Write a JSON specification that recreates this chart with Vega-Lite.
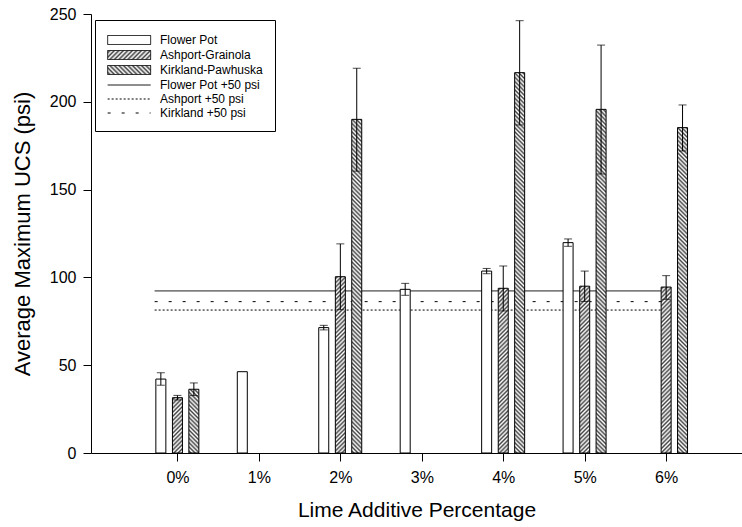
{
  "$schema": "https://vega.github.io/schema/vega-lite/v6.json",
  "width": 651,
  "height": 439,
  "autosize": {"type": "none"},
  "padding": {"left": 91, "top": 14, "right": 0, "bottom": 74},
  "background": "white",
  "config": {
    "view": {"stroke": null},
    "font": "Liberation Sans",
    "axis": {
      "grid": false, "domainColor": "black", "tickColor": "black", "labelColor": "black", "titleColor": "black",
      "labelFont": "Liberation Sans", "titleFont": "Liberation Sans", "titleFontWeight": "normal",
      "tickSize": 8, "domainWidth": 1, "tickWidth": 1, "labelFontSize": 16, "titleFontSize": 21
    }
  },
  "params": [
    {"name": "hs", "value": [
      {"offset":0,"color":"#fff"},{"offset":0.005,"color":"#444"},{"offset":0.01,"color":"#fff"},{"offset":0.015,"color":"#444"},{"offset":0.02,"color":"#fff"},{"offset":0.025,"color":"#444"},{"offset":0.03,"color":"#fff"},{"offset":0.035,"color":"#444"},{"offset":0.04,"color":"#fff"},{"offset":0.045,"color":"#444"},
      {"offset":0.05,"color":"#fff"},{"offset":0.055,"color":"#444"},{"offset":0.06,"color":"#fff"},{"offset":0.065,"color":"#444"},{"offset":0.07,"color":"#fff"},{"offset":0.075,"color":"#444"},{"offset":0.08,"color":"#fff"},{"offset":0.085,"color":"#444"},{"offset":0.09,"color":"#fff"},{"offset":0.095,"color":"#444"},
      {"offset":0.1,"color":"#fff"},{"offset":0.105,"color":"#444"},{"offset":0.11,"color":"#fff"},{"offset":0.115,"color":"#444"},{"offset":0.12,"color":"#fff"},{"offset":0.125,"color":"#444"},{"offset":0.13,"color":"#fff"},{"offset":0.135,"color":"#444"},{"offset":0.14,"color":"#fff"},{"offset":0.145,"color":"#444"},
      {"offset":0.15,"color":"#fff"},{"offset":0.155,"color":"#444"},{"offset":0.16,"color":"#fff"},{"offset":0.165,"color":"#444"},{"offset":0.17,"color":"#fff"},{"offset":0.175,"color":"#444"},{"offset":0.18,"color":"#fff"},{"offset":0.185,"color":"#444"},{"offset":0.19,"color":"#fff"},{"offset":0.195,"color":"#444"},
      {"offset":0.2,"color":"#fff"},{"offset":0.205,"color":"#444"},{"offset":0.21,"color":"#fff"},{"offset":0.215,"color":"#444"},{"offset":0.22,"color":"#fff"},{"offset":0.225,"color":"#444"},{"offset":0.23,"color":"#fff"},{"offset":0.235,"color":"#444"},{"offset":0.24,"color":"#fff"},{"offset":0.245,"color":"#444"},
      {"offset":0.25,"color":"#fff"},{"offset":0.255,"color":"#444"},{"offset":0.26,"color":"#fff"},{"offset":0.265,"color":"#444"},{"offset":0.27,"color":"#fff"},{"offset":0.275,"color":"#444"},{"offset":0.28,"color":"#fff"},{"offset":0.285,"color":"#444"},{"offset":0.29,"color":"#fff"},{"offset":0.295,"color":"#444"},
      {"offset":0.3,"color":"#fff"},{"offset":0.305,"color":"#444"},{"offset":0.31,"color":"#fff"},{"offset":0.315,"color":"#444"},{"offset":0.32,"color":"#fff"},{"offset":0.325,"color":"#444"},{"offset":0.33,"color":"#fff"},{"offset":0.335,"color":"#444"},{"offset":0.34,"color":"#fff"},{"offset":0.345,"color":"#444"},
      {"offset":0.35,"color":"#fff"},{"offset":0.355,"color":"#444"},{"offset":0.36,"color":"#fff"},{"offset":0.365,"color":"#444"},{"offset":0.37,"color":"#fff"},{"offset":0.375,"color":"#444"},{"offset":0.38,"color":"#fff"},{"offset":0.385,"color":"#444"},{"offset":0.39,"color":"#fff"},{"offset":0.395,"color":"#444"},
      {"offset":0.4,"color":"#fff"},{"offset":0.405,"color":"#444"},{"offset":0.41,"color":"#fff"},{"offset":0.415,"color":"#444"},{"offset":0.42,"color":"#fff"},{"offset":0.425,"color":"#444"},{"offset":0.43,"color":"#fff"},{"offset":0.435,"color":"#444"},{"offset":0.44,"color":"#fff"},{"offset":0.445,"color":"#444"},
      {"offset":0.45,"color":"#fff"},{"offset":0.455,"color":"#444"},{"offset":0.46,"color":"#fff"},{"offset":0.465,"color":"#444"},{"offset":0.47,"color":"#fff"},{"offset":0.475,"color":"#444"},{"offset":0.48,"color":"#fff"},{"offset":0.485,"color":"#444"},{"offset":0.49,"color":"#fff"},{"offset":0.495,"color":"#444"},
      {"offset":0.5,"color":"#fff"},{"offset":0.505,"color":"#444"},{"offset":0.51,"color":"#fff"},{"offset":0.515,"color":"#444"},{"offset":0.52,"color":"#fff"},{"offset":0.525,"color":"#444"},{"offset":0.53,"color":"#fff"},{"offset":0.535,"color":"#444"},{"offset":0.54,"color":"#fff"},{"offset":0.545,"color":"#444"},
      {"offset":0.55,"color":"#fff"},{"offset":0.555,"color":"#444"},{"offset":0.56,"color":"#fff"},{"offset":0.565,"color":"#444"},{"offset":0.57,"color":"#fff"},{"offset":0.575,"color":"#444"},{"offset":0.58,"color":"#fff"},{"offset":0.585,"color":"#444"},{"offset":0.59,"color":"#fff"},{"offset":0.595,"color":"#444"},
      {"offset":0.6,"color":"#fff"},{"offset":0.605,"color":"#444"},{"offset":0.61,"color":"#fff"},{"offset":0.615,"color":"#444"},{"offset":0.62,"color":"#fff"},{"offset":0.625,"color":"#444"},{"offset":0.63,"color":"#fff"},{"offset":0.635,"color":"#444"},{"offset":0.64,"color":"#fff"},{"offset":0.645,"color":"#444"},
      {"offset":0.65,"color":"#fff"},{"offset":0.655,"color":"#444"},{"offset":0.66,"color":"#fff"},{"offset":0.665,"color":"#444"},{"offset":0.67,"color":"#fff"},{"offset":0.675,"color":"#444"},{"offset":0.68,"color":"#fff"},{"offset":0.685,"color":"#444"},{"offset":0.69,"color":"#fff"},{"offset":0.695,"color":"#444"},
      {"offset":0.7,"color":"#fff"},{"offset":0.705,"color":"#444"},{"offset":0.71,"color":"#fff"},{"offset":0.715,"color":"#444"},{"offset":0.72,"color":"#fff"},{"offset":0.725,"color":"#444"},{"offset":0.73,"color":"#fff"},{"offset":0.735,"color":"#444"},{"offset":0.74,"color":"#fff"},{"offset":0.745,"color":"#444"},
      {"offset":0.75,"color":"#fff"},{"offset":0.755,"color":"#444"},{"offset":0.76,"color":"#fff"},{"offset":0.765,"color":"#444"},{"offset":0.77,"color":"#fff"},{"offset":0.775,"color":"#444"},{"offset":0.78,"color":"#fff"},{"offset":0.785,"color":"#444"},{"offset":0.79,"color":"#fff"},{"offset":0.795,"color":"#444"},
      {"offset":0.8,"color":"#fff"},{"offset":0.805,"color":"#444"},{"offset":0.81,"color":"#fff"},{"offset":0.815,"color":"#444"},{"offset":0.82,"color":"#fff"},{"offset":0.825,"color":"#444"},{"offset":0.83,"color":"#fff"},{"offset":0.835,"color":"#444"},{"offset":0.84,"color":"#fff"},{"offset":0.845,"color":"#444"},
      {"offset":0.85,"color":"#fff"},{"offset":0.855,"color":"#444"},{"offset":0.86,"color":"#fff"},{"offset":0.865,"color":"#444"},{"offset":0.87,"color":"#fff"},{"offset":0.875,"color":"#444"},{"offset":0.88,"color":"#fff"},{"offset":0.885,"color":"#444"},{"offset":0.89,"color":"#fff"},{"offset":0.895,"color":"#444"},
      {"offset":0.9,"color":"#fff"},{"offset":0.905,"color":"#444"},{"offset":0.91,"color":"#fff"},{"offset":0.915,"color":"#444"},{"offset":0.92,"color":"#fff"},{"offset":0.925,"color":"#444"},{"offset":0.93,"color":"#fff"},{"offset":0.935,"color":"#444"},{"offset":0.94,"color":"#fff"},{"offset":0.945,"color":"#444"},
      {"offset":0.95,"color":"#fff"},{"offset":0.955,"color":"#444"},{"offset":0.96,"color":"#fff"},{"offset":0.965,"color":"#444"},{"offset":0.97,"color":"#fff"},{"offset":0.975,"color":"#444"},{"offset":0.98,"color":"#fff"},{"offset":0.985,"color":"#444"},{"offset":0.99,"color":"#fff"},{"offset":0.995,"color":"#444"},
      {"offset":1,"color":"#fff"}
    ]}
  ],
  "datasets": {
    "bars": [
      {"pct": 0, "series": "Flower Pot", "mean": 42.1, "lo": 38.6, "hi": 45.7},
      {"pct": 1, "series": "Flower Pot", "mean": 46.3, "lo": null, "hi": null},
      {"pct": 2, "series": "Flower Pot", "mean": 71.4, "lo": 70.1, "hi": 72.7},
      {"pct": 3, "series": "Flower Pot", "mean": 93.2, "lo": 89.8, "hi": 96.6},
      {"pct": 4, "series": "Flower Pot", "mean": 103.6, "lo": 102.1, "hi": 105.1},
      {"pct": 5, "series": "Flower Pot", "mean": 119.8, "lo": 117.7, "hi": 121.9},
      {"pct": 0, "series": "Ashport-Grainola", "mean": 31.5, "lo": 30.2, "hi": 32.8},
      {"pct": 2, "series": "Ashport-Grainola", "mean": 100.4, "lo": 81.6, "hi": 119.1},
      {"pct": 4, "series": "Ashport-Grainola", "mean": 93.8, "lo": 80.9, "hi": 106.5},
      {"pct": 5, "series": "Ashport-Grainola", "mean": 95.0, "lo": 86.3, "hi": 103.6},
      {"pct": 6, "series": "Ashport-Grainola", "mean": 94.5, "lo": 87.5, "hi": 101.0},
      {"pct": 0, "series": "Kirkland-Pawhuska", "mean": 36.3, "lo": 32.7, "hi": 39.9},
      {"pct": 2, "series": "Kirkland-Pawhuska", "mean": 190.0, "lo": 160.5, "hi": 219.1},
      {"pct": 4, "series": "Kirkland-Pawhuska", "mean": 216.6, "lo": 186.8, "hi": 246.2},
      {"pct": 5, "series": "Kirkland-Pawhuska", "mean": 195.7, "lo": 158.9, "hi": 232.3},
      {"pct": 6, "series": "Kirkland-Pawhuska", "mean": 185.3, "lo": 172.0, "hi": 198.2}
    ],
    "refs": [
      {"series": "Flower Pot +50 psi", "value": 92.3},
      {"series": "Ashport +50 psi", "value": 81.4},
      {"series": "Kirkland +50 psi", "value": 86.2}
    ]
  },
  "layer": [
    {
      "data": {"name": "refs"},
      "mark": {"type": "rule", "strokeWidth": 1},
      "encoding": {
        "x": {"datum": -0.28, "type": "quantitative", "scale": {"domain": [-1, 6.87], "nice": false, "zero": false},
              "axis": {"title": "Lime Additive Percentage", "values": [0, 1, 2, 3, 4, 5, 6], "labelExpr": "datum.value + '%'", "titleY": 57, "titleBaseline": "middle", "labelPadding": 8}},
        "x2": {"datum": 6},
        "y": {"field": "value", "type": "quantitative", "scale": {"domain": [0, 250], "nice": false},
              "axis": {"title": "Average Maximum UCS (psi)", "values": [0, 50, 100, 150, 200, 250], "labelPadding": 7, "titleX": -69, "titleBaseline": "middle", "titleFontSize": 22}},
        "color": {
          "field": "series", "type": "nominal",
          "scale": {"domain": ["Flower Pot", "Ashport-Grainola", "Kirkland-Pawhuska", "Flower Pot +50 psi", "Ashport +50 psi", "Kirkland +50 psi"],
                    "range": ["black", "black", "black", "black", "black", "black"]},
          "legend": {
            "title": null, "orient": "none", "legendX": 4, "legendY": 6,
            "strokeColor": "black", "fillColor": "white", "padding": 12,
            "symbolSize": 216, "labelOffset": 37, "labelFontSize": 12, "labelFont": "Liberation Sans", "labelColor": "black", "rowPadding": 0,
            "encode": {"symbols": {"update": {
              "shape": {"signal": "indexof(['Flower Pot','Ashport-Grainola','Kirkland-Pawhuska'], datum.value) >= 0 ? 'M-1,-0.612H4.85V0.612H-1Z' : 'M-1,0H4.85'"},
              "fill": {"signal": "datum.value === 'Flower Pot' ? 'white' : datum.value === 'Ashport-Grainola' ? {gradient: 'linear', x1: 0, y1: 0, x2: 10.03, y2: 2.099, stops: hs} : datum.value === 'Kirkland-Pawhuska' ? {gradient: 'linear', x1: 0, y1: 1, x2: 10.03, y2: -1.099, stops: hs} : 'transparent'"},
              "strokeWidth": {"value": 1},
              "opacity": {"value": 1},
              "strokeDash": {"signal": "datum.value === 'Ashport +50 psi' ? [2,2] : datum.value === 'Kirkland +50 psi' ? [3,11] : [1,0]"}
            }}}
          }
        },
        "strokeDash": {
          "field": "series", "type": "nominal", "legend": null,
          "scale": {"domain": ["Flower Pot +50 psi", "Ashport +50 psi", "Kirkland +50 psi"], "range": [[1, 0], [2, 2], [3, 11]]}
        }
      }
    },
    {
      "data": {"name": "bars"},
      "transform": [{"filter": "datum.series === 'Flower Pot'"}],
      "layer": [
        {"mark": {"type": "bar", "orient": "vertical", "width": 10, "xOffset": -16.6, "fill": "white", "stroke": "black", "strokeWidth": 1},
         "encoding": {"x": {"field": "pct", "type": "quantitative"}, "y": {"field": "mean", "type": "quantitative", "axis": {"title": "Average Maximum UCS (psi)"}}}},
        {"mark": {"type": "rule", "xOffset": -16.6, "color": "black"},
         "encoding": {"x": {"field": "pct", "type": "quantitative"}, "y": {"field": "lo", "type": "quantitative", "axis": {"title": "Average Maximum UCS (psi)"}}, "y2": {"field": "hi"}}},
        {"mark": {"type": "tick", "orient": "horizontal", "xOffset": -16.6, "size": 8, "thickness": 1, "color": "black"},
         "encoding": {"x": {"field": "pct", "type": "quantitative"}, "y": {"field": "lo", "type": "quantitative", "axis": {"title": "Average Maximum UCS (psi)"}}}},
        {"mark": {"type": "tick", "orient": "horizontal", "xOffset": -16.6, "size": 8, "thickness": 1, "color": "black"},
         "encoding": {"x": {"field": "pct", "type": "quantitative"}, "y": {"field": "hi", "type": "quantitative", "axis": {"title": "Average Maximum UCS (psi)"}}}}
      ]
    },
    {
      "data": {"name": "bars"},
      "transform": [{"filter": "datum.series === 'Ashport-Grainola'"}],
      "layer": [
        {"mark": {"type": "bar", "orient": "vertical", "width": 10, "xOffset": 0, "stroke": "black", "strokeWidth": 1,
                  "fill": {"expr": "{gradient: 'linear', x1: 0, y1: 0, x2: 4200 / (100 + pow(scale('y', 0) - scale('y', datum.mean), 2)), y2: 420 * (scale('y', 0) - scale('y', datum.mean)) / (100 + pow(scale('y', 0) - scale('y', datum.mean), 2)), stops: hs}"}},
         "encoding": {"x": {"field": "pct", "type": "quantitative"}, "y": {"field": "mean", "type": "quantitative", "axis": {"title": "Average Maximum UCS (psi)"}}}},
        {"mark": {"type": "rule", "xOffset": 0, "color": "black"},
         "encoding": {"x": {"field": "pct", "type": "quantitative"}, "y": {"field": "lo", "type": "quantitative", "axis": {"title": "Average Maximum UCS (psi)"}}, "y2": {"field": "hi"}}},
        {"mark": {"type": "tick", "orient": "horizontal", "xOffset": 0, "size": 8, "thickness": 1, "color": "black"},
         "encoding": {"x": {"field": "pct", "type": "quantitative"}, "y": {"field": "lo", "type": "quantitative", "axis": {"title": "Average Maximum UCS (psi)"}}}},
        {"mark": {"type": "tick", "orient": "horizontal", "xOffset": 0, "size": 8, "thickness": 1, "color": "black"},
         "encoding": {"x": {"field": "pct", "type": "quantitative"}, "y": {"field": "hi", "type": "quantitative", "axis": {"title": "Average Maximum UCS (psi)"}}}}
      ]
    },
    {
      "data": {"name": "bars"},
      "transform": [{"filter": "datum.series === 'Kirkland-Pawhuska'"}],
      "layer": [
        {"mark": {"type": "bar", "orient": "vertical", "width": 10, "xOffset": 16.4, "stroke": "black", "strokeWidth": 1,
                  "fill": {"expr": "{gradient: 'linear', x1: 0, y1: 1, x2: 4200 / (100 + pow(scale('y', 0) - scale('y', datum.mean), 2)), y2: 1 - 420 * (scale('y', 0) - scale('y', datum.mean)) / (100 + pow(scale('y', 0) - scale('y', datum.mean), 2)), stops: hs}"}},
         "encoding": {"x": {"field": "pct", "type": "quantitative"}, "y": {"field": "mean", "type": "quantitative", "axis": {"title": "Average Maximum UCS (psi)"}}}},
        {"mark": {"type": "rule", "xOffset": 16.4, "color": "black"},
         "encoding": {"x": {"field": "pct", "type": "quantitative"}, "y": {"field": "lo", "type": "quantitative", "axis": {"title": "Average Maximum UCS (psi)"}}, "y2": {"field": "hi"}}},
        {"mark": {"type": "tick", "orient": "horizontal", "xOffset": 16.4, "size": 8, "thickness": 1, "color": "black"},
         "encoding": {"x": {"field": "pct", "type": "quantitative"}, "y": {"field": "lo", "type": "quantitative", "axis": {"title": "Average Maximum UCS (psi)"}}}},
        {"mark": {"type": "tick", "orient": "horizontal", "xOffset": 16.4, "size": 8, "thickness": 1, "color": "black"},
         "encoding": {"x": {"field": "pct", "type": "quantitative"}, "y": {"field": "hi", "type": "quantitative", "axis": {"title": "Average Maximum UCS (psi)"}}}}
      ]
    },
    {
      "mark": {"type": "rule", "color": "black", "strokeWidth": 1},
      "encoding": {"y": {"datum": 250, "type": "quantitative"}}
    }
  ]
}
